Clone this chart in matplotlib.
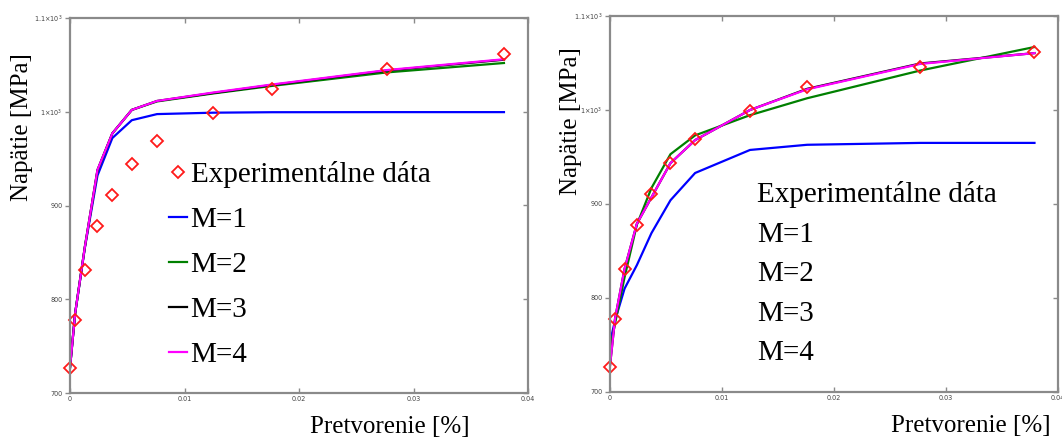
#!/usr/bin/env python3

import matplotlib
matplotlib.use("Agg")
import matplotlib.pyplot as plt

# strain values where the experiment and the models were evaluated
strain = [0, 0.00045, 0.0013, 0.0024, 0.0037, 0.0054, 0.0076, 0.0125, 0.0176, 0.0277, 0.0379]
exp_stress = [727, 778, 831, 878, 911, 944, 969, 999, 1024, 1046, 1062]

# left panel model curves
left_m1 = [727, 785, 855, 932, 972, 991, 997.5, 999, 999.5, 999.6, 999.6]
left_m2 = [727, 785, 856, 937, 977, 1002, 1011, 1019.5, 1027.5, 1042, 1052]
left_m3 = [727, 785, 856, 938, 977, 1002, 1011.5, 1020, 1028.5, 1044, 1055.5]
left_m4 = [727, 785, 856, 938, 977, 1002, 1011.5, 1020.5, 1029, 1044.5, 1056]

# right panel model curves
right_m1 = [753, 776, 810, 835, 869, 904, 933, 957.5, 963, 965, 965]
right_m2 = [745, 773, 822, 878, 917, 953, 973, 994.5, 1012.5, 1042, 1067]
right_m3 = [728, 778, 831, 879, 907, 943.5, 968, 1000, 1022.5, 1049.5, 1060.5]
right_m4 = [728, 778, 831, 879, 907, 943.5, 968, 1000, 1022, 1049, 1060.5]

x_ticks = [0, 0.01, 0.02, 0.03, 0.04]
x_ticklabels = ["0", "0.01", "0.02", "0.03", "0.04"]
y_ticks = [700, 800, 900, 1000, 1100]
y_ticklabels = ["700", "800", "900", r"$1{\times}10^{3}$", r"$1.1{\times}10^{3}$"]

labels = ["Experimentálne dáta", "M=1", "M=2", "M=3", "M=4"]
colors = ["#0000ff", "#008000", "#000000", "#ff00ff"]

SERIF = "Liberation Serif"
SPINE = "#8a8a8a"


def style_axes(ax):
    ax.set_xlim(0, 0.04)
    ax.set_ylim(700, 1100)
    ax.set_xticks(x_ticks)
    ax.set_xticklabels(x_ticklabels)
    ax.set_yticks(y_ticks)
    ax.set_yticklabels(y_ticklabels)
    for s in ax.spines.values():
        s.set_color(SPINE)
        s.set_linewidth(1.6)
    ax.tick_params(axis="both", labelsize=4.7, labelcolor="#444444", color=SPINE,
                   length=3.5, width=1, pad=2)
    ax.tick_params(axis="x", direction="in", top=True)
    ax.tick_params(axis="y", direction="out", right=False)
    # inner ticks on the right spine
    sec = ax.secondary_yaxis("right")
    sec.set_yticks(y_ticks)
    sec.tick_params(direction="in", length=3.5, width=1, color=SPINE, labelright=False)
    sec.spines["right"].set_visible(False)
    ax.set_ylabel("Napätie [MPa]", family=SERIF, fontsize=18)
    ax.set_xlabel("Pretvorenie [%]", family=SERIF, fontsize=18, va="top")


def plot_panel(ax, curves):
    handles = []
    for ys, c in zip(curves, colors):
        h, = ax.plot(strain, ys, color=c, lw=1.6)
        handles.append(h)
    d, = ax.plot(strain, exp_stress, ls="none", marker="D", ms=6, mfc="none",
                 mec="#ff1a1a", mew=1.3, clip_on=False)
    return [d] + handles


fig = plt.figure(figsize=(10.62, 4.41), dpi=100)
ax1 = fig.add_axes([70 / 1062, 1 - 393 / 441, 458 / 1062, 375 / 441])
ax2 = fig.add_axes([610 / 1062, 1 - 392 / 441, 448 / 1062, 376 / 441])

h1 = plot_panel(ax1, [left_m1, left_m2, left_m3, left_m4])
h2 = plot_panel(ax2, [right_m1, right_m2, right_m3, right_m4])

style_axes(ax1)
style_axes(ax2)

ax1.yaxis.set_label_coords(-0.081, 0.71)
ax1.xaxis.set_label_coords(0.699, -0.062)
ax2.yaxis.set_label_coords(-0.0625, 0.72)
ax2.xaxis.set_label_coords(0.806, -0.062)

leg1 = ax1.legend(h1, labels, loc="upper left", bbox_to_anchor=(169 / 1062, 1 - 161 / 441),
                  bbox_transform=fig.transFigure, frameon=False, prop={"family": SERIF, "size": 21},
                  handlelength=0.62, handletextpad=0.12, labelspacing=0.64, borderpad=0,
                  borderaxespad=0, numpoints=1)

leg2 = ax2.legend(h2, labels, loc="upper left", bbox_to_anchor=(757 / 1062, 1 - 181 / 441),
                  bbox_transform=fig.transFigure, frameon=False, prop={"family": SERIF, "size": 21},
                  handlelength=0, handletextpad=0, labelspacing=0.45, borderpad=0,
                  borderaxespad=0)
for h in leg2.legend_handles:
    h.set_visible(False)

fig.savefig("out.png", dpi=100)
